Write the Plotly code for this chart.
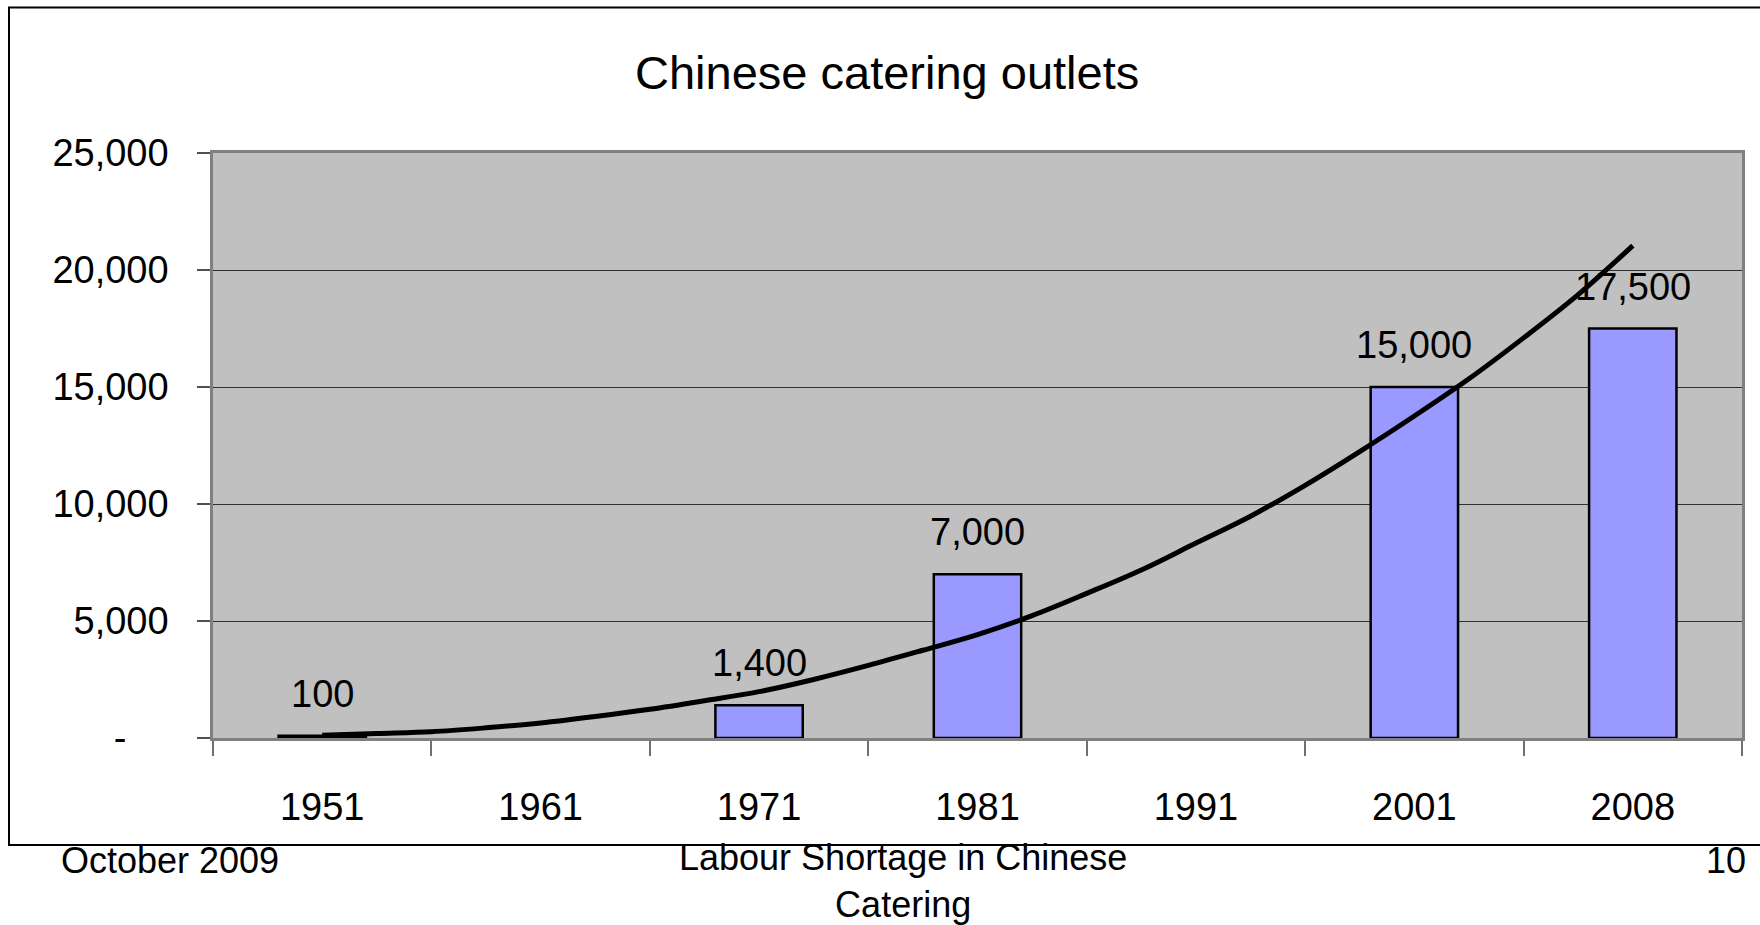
import plotly.graph_objects as go

# ---- data -------------------------------------------------------------
years = ["1951", "1961", "1971", "1981", "1991", "2001", "2008"]
outlets = [100, None, 1400, 7000, None, 15000, 17500]

# trend curve sampled along the category index (0 = 1951 ... 6 = 2008)
trend_pos = [0.0, 0.25, 0.5, 0.75, 1.0, 1.25, 1.5, 1.75, 2.0, 2.25, 2.5, 2.75,
             3.0, 3.25, 3.5, 3.75, 4.0, 4.25, 4.5, 4.75, 5.0, 5.25, 5.5, 5.75, 6.0]
trend_val = [120, 195, 270, 435, 640, 915, 1225, 1590, 1980, 2500, 3100, 3750,
             4420, 5230, 6180, 7180, 8330, 9480, 10800, 12240, 13760, 15350,
             17100, 18950, 21040]

y_ticks = [0, 5000, 10000, 15000, 20000, 25000]
y_tick_text = ["-\u00a0\u00a0\u00a0\u00a0", "5,000", "10,000", "15,000", "20,000", "25,000"]

title_text = "Chinese catering outlets"
footer_left = "October 2009"
footer_mid = "Labour Shortage in Chinese<br>Catering"
footer_right = "10"

# ---- page geometry ----------------------------------------------------
W, H = 1760, 925
L, R, T, B = 213, 18, 153, 187
PW, PH = W - L - R, H - T - B


def px(x):
    return (x - L) / PW


def py(y):
    return (H - B - y) / PH


FONT = "Liberation Sans, Arial, sans-serif"
LABEL_SIZE = 38

fig = go.Figure()

fig.add_trace(go.Bar(
    x=years, y=outlets,
    marker=dict(color="#9999FF", line=dict(color="#000000", width=2.5)),
    hoverinfo="x+y",
))

fig.add_trace(go.Scatter(
    x=trend_pos, y=trend_val, xaxis="x2",
    mode="lines", line=dict(color="#000000", width=5, shape="spline"),
    hoverinfo="skip",
))

annotations = []
for i, v in enumerate(outlets):
    if v is None:
        continue
    annotations.append(dict(
        x=i, y=v, xref="x2", yref="y", text=f"{v:,}", showarrow=False,
        xanchor="center", yanchor="bottom", yshift=19,
        font=dict(family=FONT, size=LABEL_SIZE, color="#000"),
    ))

annotations.append(dict(
    x=px(887), y=py(72), xref="paper", yref="paper", text=title_text,
    showarrow=False, xanchor="center", yanchor="middle",
    font=dict(family=FONT, size=47, color="#000"),
))
annotations.append(dict(
    x=px(59), y=py(860), xref="paper", yref="paper", text=footer_left,
    showarrow=False, xanchor="left", yanchor="middle",
    font=dict(family=FONT, size=36, color="#000"),
))
annotations.append(dict(
    x=px(903), y=py(881), xref="paper", yref="paper", text=footer_mid,
    showarrow=False, xanchor="center", yanchor="middle", align="center",
    font=dict(family=FONT, size=36, color="#000"),
))
annotations.append(dict(
    x=px(1748), y=py(860), xref="paper", yref="paper", text=footer_right,
    showarrow=False, xanchor="right", yanchor="middle",
    font=dict(family=FONT, size=36, color="#000"),
))

fig.update_layout(
    width=W, height=H, autosize=False,
    margin=dict(l=L, r=R, t=T, b=B, pad=0),
    paper_bgcolor="#FFFFFF", plot_bgcolor="#C0C0C0",
    showlegend=False, bargap=0.6,
    xaxis=dict(
        type="category", categoryorder="array", categoryarray=years,
        range=[-0.5, 6.5], tickson="boundaries", ticks="outside", ticklen=15,
        tickwidth=1.5, tickcolor="#707070", showgrid=False,
        showline=True, linecolor="#808080", linewidth=2.5, mirror=True,
        tickfont=dict(family=FONT, size=LABEL_SIZE, color="#000"),
        ticklabelstandoff=34, fixedrange=True,
    ),
    xaxis2=dict(overlaying="x", range=[-0.5, 6.5], visible=False, fixedrange=True),
    yaxis=dict(
        range=[0, 25000], tickvals=y_ticks, ticktext=y_tick_text,
        ticks="outside", ticklen=13, tickwidth=1.5, tickcolor="#505050",
        showgrid=True, gridcolor="#303030", gridwidth=1, zeroline=False,
        showline=True, linecolor="#808080", linewidth=2.5, mirror=True,
        tickfont=dict(family=FONT, size=LABEL_SIZE, color="#000"),
        ticklabelstandoff=21, fixedrange=True,
    ),
    annotations=annotations,
    shapes=[dict(
        type="rect", xref="paper", yref="paper",
        x0=px(9), x1=px(1780), y0=py(845), y1=py(7.5),
        line=dict(color="#000000", width=2), fillcolor="rgba(0,0,0,0)",
        layer="above",
    )],
)

fig.write_html("out.html", include_plotlyjs=True, config={"displayModeBar": False})
